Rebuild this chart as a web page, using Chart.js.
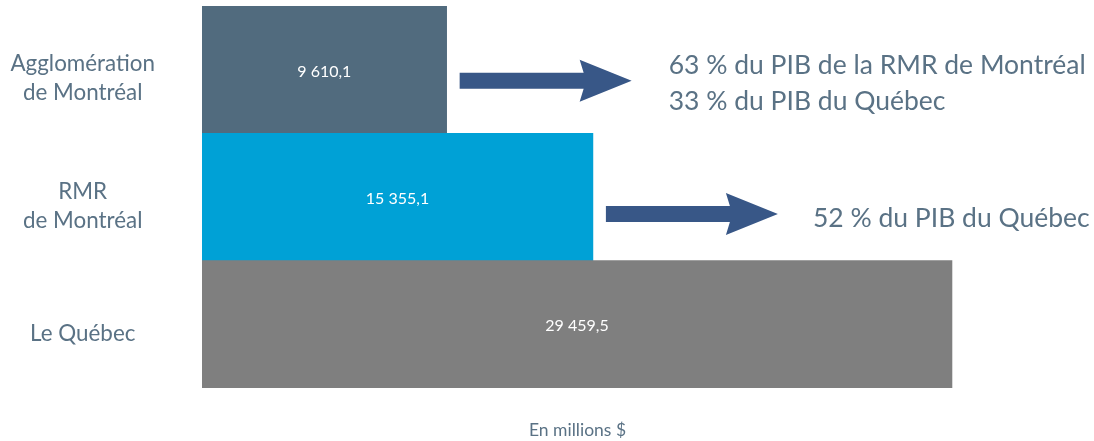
<!DOCTYPE html>
<html>
<head>
<meta charset="utf-8">
<script src="https://cdn.jsdelivr.net/npm/chart.js@4/dist/chart.umd.min.js"></script>
<style>
  html, body { margin: 0; padding: 0; background: #fff; }
  #wrap { width: 1094px; height: 441px; }
</style>
</head>
<body>
<div id="wrap"><canvas id="pibChart"></canvas></div>
<script>
const categories = [['Agglomération', 'de Montréal'], ['RMR', 'de Montréal'], 'Le Québec'];
const pibValues = [9610.1, 15355.1, 29459.5];
const barColors = ['#516b7e', '#00a1d6', '#7f7f7f'];
const noteLines = [
  ['63 % du PIB de la RMR de Montréal', '33 % du PIB du Québec'],
  ['52 % du PIB du Québec'],
  []
];

const FONT = 'Lato, "Open Sans", sans-serif';
const textColor = '#5a7285';
const arrowColor = '#385787';

function fmt(v) {
  const parts = v.toFixed(1).split('.');
  return parts[0].replace(/\B(?=(\d{3})+(?!\d))/g, ' ') + ',' + parts[1];
}

const barTexts = {
  id: 'barTexts',
  afterDatasetsDraw(chart) {
    const {ctx} = chart;
    const bars = chart.getDatasetMeta(0).data;
    ctx.save();
    ctx.font = '16px ' + FONT;
    ctx.fillStyle = '#ffffff';
    ctx.textAlign = 'center';
    ctx.textBaseline = 'middle';
    bars.forEach((b, i) => {
      ctx.fillText(fmt(pibValues[i]), (b.base + b.x) / 2, b.y + 2);
    });

    // fleches + notes
    bars.forEach((b, i) => {
      const lines = noteLines[i];
      if (!lines.length) return;
      const dy = i === 0 ? 11 : 17;
      const x0 = b.x + 13;
      const y = b.y + dy;
      const shaft = 124, head = 48, hw = 21, sw = 8;
      ctx.fillStyle = arrowColor;
      ctx.beginPath();
      ctx.moveTo(x0, y - sw);
      ctx.lineTo(x0 + shaft, y - sw);
      ctx.lineTo(x0 + shaft - 4, y - hw);
      ctx.lineTo(x0 + shaft + head, y);
      ctx.lineTo(x0 + shaft - 4, y + hw);
      ctx.lineTo(x0 + shaft, y + sw);
      ctx.lineTo(x0, y + sw);
      ctx.closePath();
      ctx.fill();

      ctx.font = '26.5px ' + FONT;
      ctx.fillStyle = textColor;
      ctx.textAlign = 'left';
      const tx = x0 + shaft + head + (i === 0 ? 37 : 35);
      const lh = 36;
      const ty0 = i === 0 ? b.y - 4 : y + 4;
      lines.forEach((t, k) => ctx.fillText(t, tx, ty0 + k * lh));
    });
    ctx.restore();
  }
};

new Chart(document.getElementById('pibChart'), {
  type: 'bar',
  data: {
    labels: categories,
    datasets: [{
      data: pibValues,
      backgroundColor: barColors,
      borderWidth: 0,
      barPercentage: 1,
      categoryPercentage: 1
    }]
  },
  options: {
    indexAxis: 'y',
    responsive: true,
    maintainAspectRatio: false,
    animation: false,
    layout: { padding: { top: 6, right: 141, left: 0, bottom: 0 } },
    plugins: { legend: { display: false }, tooltip: { enabled: false } },
    scales: {
      x: {
        min: 0,
        max: 29500,
        grid: { display: false },
        border: { display: false },
        ticks: { display: false },
        title: {
          display: true,
          text: 'En millions $',
          color: textColor,
          font: { family: FONT, size: 17.5 },
          padding: { top: 0, bottom: 0 }
        },
        afterFit(scale) {
          scale.height = 53;
          scale.paddingLeft = 0; scale.paddingRight = 0;
        }
      },
      y: {
        grid: { display: false },
        border: { display: false },
        ticks: {
          color: textColor,
          font: { family: FONT, size: 22.4, lineHeight: 1.3 },
          crossAlign: 'center',
          padding: 39,
          labelOffset: 9
        },
        afterFit(scale) {
          scale.width = 202;
          scale.paddingTop = 0; scale.paddingBottom = 0;
        }
      }
    }
  },
  plugins: [barTexts]
});
</script>
</body>
</html>
